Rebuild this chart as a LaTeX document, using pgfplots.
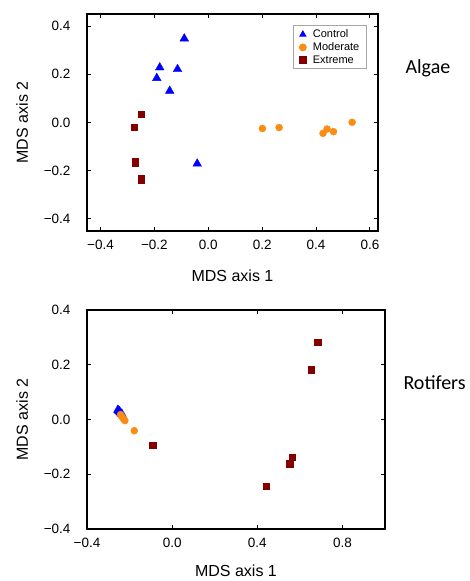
\documentclass[border=0pt]{standalone}
\usepackage{pgfplots}
\pgfplotsset{compat=1.18}
\usepackage{fontspec}
\setmainfont{Liberation Sans}
\newfontfamily\calibri{Carlito}

\definecolor{ctrl}{RGB}{0,0,255}
\definecolor{modr}{RGB}{250,140,20}
\definecolor{extr}{RGB}{130,0,0}

\pgfplotsset{
  mdsaxis/.style={
    scale only axis,
    axis line style={line width=1.3pt},
    tick style={black, line width=1pt},
    tick align=inside,
    major tick length=4pt,
    tick label style={font=\fontsize{13.5}{15}\selectfont},
    label style={font=\fontsize{16}{18}\selectfont},
    yticklabel style={xshift=-13pt},
    xticklabel style={yshift=-6pt},
    ylabel={MDS axis 2},
    xlabel={MDS axis 1},
  },
  ctrlmark/.style={only marks, mark=triangle*, mark size=5pt, color=ctrl, mark options={fill=ctrl, draw=ctrl}},
  modrmark/.style={only marks, mark=*, mark size=3.5pt, color=modr, mark options={fill=modr, draw=modr}},
  extrmark/.style={only marks, mark=square*, mark size=3.2pt, color=extr, mark options={fill=extr, draw=extr}},
}

\begin{document}
\begin{tikzpicture}
\path (0pt,0pt) rectangle (468pt,-581pt);

% Algae
\begin{axis}[
  mdsaxis,
  at={(87pt,-14pt)}, anchor=north west,
  width=291pt, height=217pt,
  xmin=-0.45, xmax=0.63,
  ymin=-0.45, ymax=0.45,
  xtick={-0.4,-0.2,0,0.2,0.4,0.6},
  xticklabels={−0.4,−0.2,0.0,0.2,0.4,0.6},
  ytick={-0.4,-0.2,0,0.2,0.4},
  yticklabels={−0.4,−0.2,0.0,0.2,0.4},
  xlabel style={at={(axis description cs:0.5,-0.207)}, anchor=center},
  ylabel style={at={(axis description cs:-0.223,0.5)}, anchor=center},
  legend style={at={(0.963,0.948)}, anchor=north east, draw=gray!70, line width=0.8pt,
    font=\fontsize{11}{12}\selectfont, row sep=0.5pt, inner xsep=6pt, inner ysep=2.5pt,
    nodes={inner sep=1.5pt},
    /tikz/every odd column/.append style={column sep=5pt}},
  legend cell align=left,
  legend image post style={mark size=3.5pt},
]
\addplot[ctrlmark] coordinates {
  (-0.089,0.348) (-0.180,0.228) (-0.114,0.221)
  (-0.191,0.184) (-0.143,0.131) (-0.041,-0.171)
};
\addlegendentry{Control}
\addplot[modrmark] coordinates {
  (0.201,-0.025) (0.263,-0.021) (0.426,-0.045)
  (0.441,-0.027) (0.465,-0.038) (0.534,0.001)
};
\addlegendentry{Moderate}
\addplot[extrmark] coordinates {
  (-0.248,0.034) (-0.275,-0.019) (-0.271,-0.161)
  (-0.271,-0.169) (-0.248,-0.232) (-0.248,-0.240)
};
\addlegendentry{Extreme}
\end{axis}

% Rotifers
\begin{axis}[
  mdsaxis,
  at={(87pt,-310pt)}, anchor=north west,
  width=298pt, height=219pt,
  xmin=-0.4, xmax=1.0,
  ymin=-0.4, ymax=0.4,
  xtick={-0.4,0,0.4,0.8},
  xticklabels={−0.4,0.0,0.4,0.8},
  ytick={-0.4,-0.2,0,0.2,0.4},
  yticklabels={−0.4,−0.2,0.0,0.2,0.4},
  xlabel style={at={(axis description cs:0.5,-0.193)}, anchor=center},
  ylabel style={at={(axis description cs:-0.218,0.5)}, anchor=center},
]
\addplot[ctrlmark] coordinates {
  (-0.255,0.035) (-0.252,0.032) (-0.248,0.030)
  (-0.245,0.026) (-0.240,0.022) (-0.236,0.020)
};
\addplot[modrmark] coordinates {
  (-0.242,0.018) (-0.238,0.012) (-0.232,0.006)
  (-0.226,0.000) (-0.222,-0.004) (-0.178,-0.041)
};
\addplot[extrmark] coordinates {
  (0.683,0.282) (0.652,0.182) (0.563,-0.137)
  (0.552,-0.162) (0.442,-0.244) (-0.092,-0.093)
};
\end{axis}

\node[anchor=base west, font=\calibri\fontsize{20}{24}\selectfont] at (402pt,-73pt) {Algae};
\node[anchor=base west, font=\calibri\fontsize{20}{24}\selectfont] at (400pt,-389pt) {Rotifers};
\end{tikzpicture}
\end{document}
